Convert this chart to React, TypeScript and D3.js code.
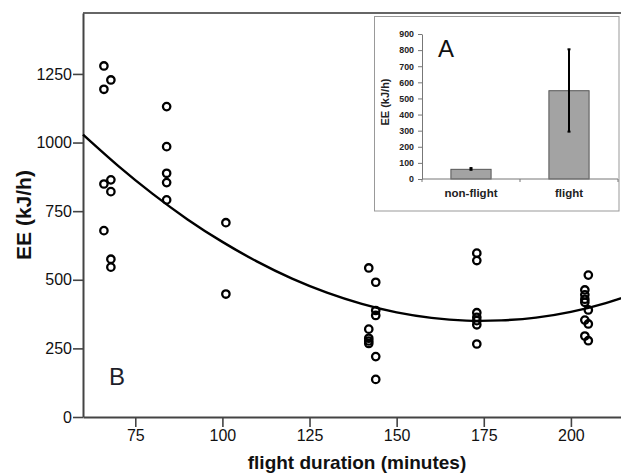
import React, { useRef, useEffect } from 'react';
import * as d3 from 'd3';

// scatter: flight duration (minutes) vs EE (kJ/h)
const durations = [
  66, 66, 66, 66,
  68, 68, 68, 68, 68,
  84, 84, 84, 84, 84,
  101, 101,
  142, 142, 142, 142, 142,
  144, 144, 144, 144, 144,
  173, 173, 173, 173, 173, 173, 173,
  204, 204, 204, 204, 204, 204,
  205, 205, 205, 205,
];
const eeValues = [
  1279, 1194, 849, 679,
  1228, 864, 821, 575, 546,
  1131, 985, 888, 854, 791,
  708, 448,
  543, 320, 287, 277, 268,
  491, 388, 370, 220, 137,
  597, 570, 380, 363, 351, 336, 266,
  463, 445, 429, 418, 353, 295,
  517, 390, 339, 278,
];

// fitted curve
const fitX = [60, 70, 80, 90, 100, 110, 120, 130, 140, 150, 160, 170, 180, 190, 200, 210, 220];
const fitY = [1029, 916, 813, 720, 638, 566, 504, 453, 412, 381, 361, 351, 352, 362, 383, 415, 457];

const xTicks = [75, 100, 125, 150, 175, 200];
const yTicks = [0, 250, 500, 750, 1000, 1250];

// inset A
const insetCats = ['non-flight', 'flight'];
const insetMeans = [60, 548];
const insetLow = [57, 294];
const insetHigh = [68, 805];
const insetTicks = [0, 100, 200, 300, 400, 500, 600, 700, 800, 900];

const FONT = '"Liberation Sans", Arial, sans-serif';

function App() {
  const svgRef = useRef<SVGSVGElement>(null);

  useEffect(() => {
    const width = 621;
    const height = 476;

    const svg = d3.select(svgRef.current);
    svg.selectAll('*').remove();
    svg.attr('width', width).attr('height', height).attr('viewBox', [0, 0, width, height]);

    svg.append('rect').attr('width', width).attr('height', height).attr('fill', '#fff');

    const x = d3.scaleLinear().domain([60, 220]).range([83, 640.6]);
    const y = d3.scaleLinear().domain([0, 1472]).range([417, 13]);

    // frame top
    svg.append('line')
      .attr('x1', 83).attr('x2', width).attr('y1', y(1472)).attr('y2', y(1472))
      .attr('stroke', '#666').attr('stroke-width', 2);

    // axes
    const gx = svg.append('g')
      .attr('transform', `translate(0,${y(0)})`)
      .call(d3.axisBottom(x).tickValues(xTicks).tickFormat(d3.format('d')).tickSize(10).tickPadding(3).tickSizeOuter(0));
    const gy = svg.append('g')
      .attr('transform', `translate(${x(60)},0)`)
      .call(d3.axisLeft(y).tickValues(yTicks).tickFormat(d3.format('d')).tickSize(10).tickPadding(1).tickSizeOuter(0));
    [gx, gy].forEach(g => {
      g.select('.domain').attr('stroke', '#444').attr('stroke-width', 2);
      g.selectAll('.tick line').attr('stroke', '#444').attr('stroke-width', 1.6);
      g.selectAll('.tick text')
        .attr('font-family', FONT).attr('font-size', 16).attr('fill', '#111');
    });

    // fit line
    const line = d3.line<number>()
      .x((_, i) => x(fitX[i]))
      .y(d => y(d))
      .curve(d3.curveNatural);
    svg.append('path')
      .datum(fitY)
      .attr('d', line)
      .attr('fill', 'none')
      .attr('stroke', '#000')
      .attr('stroke-width', 2.4);

    // points
    svg.append('g')
      .selectAll('circle')
      .data(eeValues)
      .join('circle')
      .attr('cx', (_, i) => x(durations[i]))
      .attr('cy', d => y(d))
      .attr('r', 3.7)
      .attr('fill', 'none')
      .attr('stroke', '#000')
      .attr('stroke-width', 2.3);

    // axis titles
    svg.append('text')
      .attr('x', 357).attr('y', 469)
      .attr('text-anchor', 'middle')
      .attr('font-family', FONT).attr('font-weight', 'bold').attr('font-size', 19)
      .attr('fill', '#111')
      .text('flight duration (minutes)');
    svg.append('text')
      .attr('transform', 'translate(31,215) rotate(-90)')
      .attr('text-anchor', 'middle')
      .attr('font-family', FONT).attr('font-weight', 'bold').attr('font-size', 21)
      .attr('fill', '#111')
      .text('EE (kJ/h)');

    svg.append('text')
      .attr('x', 109).attr('y', 385)
      .attr('font-family', FONT).attr('font-size', 24).attr('fill', '#1e1e2a')
      .text('B');

    // inset
    const inset = svg.append('g');
    inset.append('rect')
      .attr('x', 374.5).attr('y', 16.5).attr('width', 244.5).attr('height', 194.5)
      .attr('fill', '#fff').attr('stroke', '#999').attr('stroke-width', 1);

    const ix = d3.scaleBand<string>().domain(insetCats).range([422, 618]).paddingInner(0.59).paddingOuter(0.295);
    const iy = d3.scaleLinear().domain([0, 900]).range([179, 34]);

    inset.append('g')
      .selectAll('rect')
      .data(insetMeans)
      .join('rect')
      .attr('x', (_, i) => ix(insetCats[i])!)
      .attr('y', d => iy(d))
      .attr('width', ix.bandwidth())
      .attr('height', d => iy(0) - iy(d))
      .attr('fill', '#a3a3a3')
      .attr('stroke', '#555')
      .attr('stroke-width', 1);

    // error bars
    const eb = inset.append('g').attr('stroke', '#000').attr('stroke-width', 2);
    insetCats.forEach((c, i) => {
      const cx = ix(c)! + ix.bandwidth() / 2;
      eb.append('line').attr('x1', cx).attr('x2', cx).attr('y1', iy(insetLow[i])).attr('y2', iy(insetHigh[i]));
      eb.append('line').attr('x1', cx - 1.5).attr('x2', cx + 1.5).attr('y1', iy(insetLow[i])).attr('y2', iy(insetLow[i]));
      eb.append('line').attr('x1', cx - 1.5).attr('x2', cx + 1.5).attr('y1', iy(insetHigh[i])).attr('y2', iy(insetHigh[i]));
    });

    const igy = inset.append('g')
      .attr('transform', 'translate(422,0)')
      .call(d3.axisLeft(iy).tickValues(insetTicks).tickSize(4).tickPadding(4).tickSizeOuter(0));
    igy.select('.domain').attr('stroke', '#777');
    igy.selectAll('.tick line').attr('stroke', '#777');
    igy.selectAll('.tick text')
      .attr('font-family', FONT).attr('font-weight', 'bold').attr('font-size', 8.8).attr('fill', '#222');

    // category axis, ticks on the band boundaries
    inset.append('line')
      .attr('x1', 422).attr('x2', 618).attr('y1', iy(0)).attr('y2', iy(0))
      .attr('stroke', '#777');
    const boundaries = [422, 520, 618];
    inset.append('g')
      .selectAll('line')
      .data(boundaries)
      .join('line')
      .attr('x1', d => d).attr('x2', d => d)
      .attr('y1', iy(0)).attr('y2', iy(0) + 3)
      .attr('stroke', '#777');
    inset.append('g')
      .selectAll('text')
      .data(insetCats)
      .join('text')
      .attr('x', d => ix(d)! + ix.bandwidth() / 2)
      .attr('y', 197)
      .attr('text-anchor', 'middle')
      .attr('font-family', FONT).attr('font-weight', 'bold').attr('font-size', 11.5)
      .attr('fill', '#222')
      .text(d => d);

    inset.append('text')
      .attr('transform', 'translate(389,102) rotate(-90)')
      .attr('text-anchor', 'middle')
      .attr('font-family', FONT).attr('font-weight', 'bold').attr('font-size', 11)
      .attr('fill', '#222')
      .text('EE (kJ/h)');

    inset.append('text')
      .attr('x', 438).attr('y', 57)
      .attr('font-family', FONT).attr('font-size', 24).attr('fill', '#111')
      .text('A');
  }, []);

  return (
    <div style={{ position: 'absolute', left: 0, top: 0 }}>
      <svg ref={svgRef} style={{ display: 'block' }}></svg>
    </div>
  );
}

export default App;
